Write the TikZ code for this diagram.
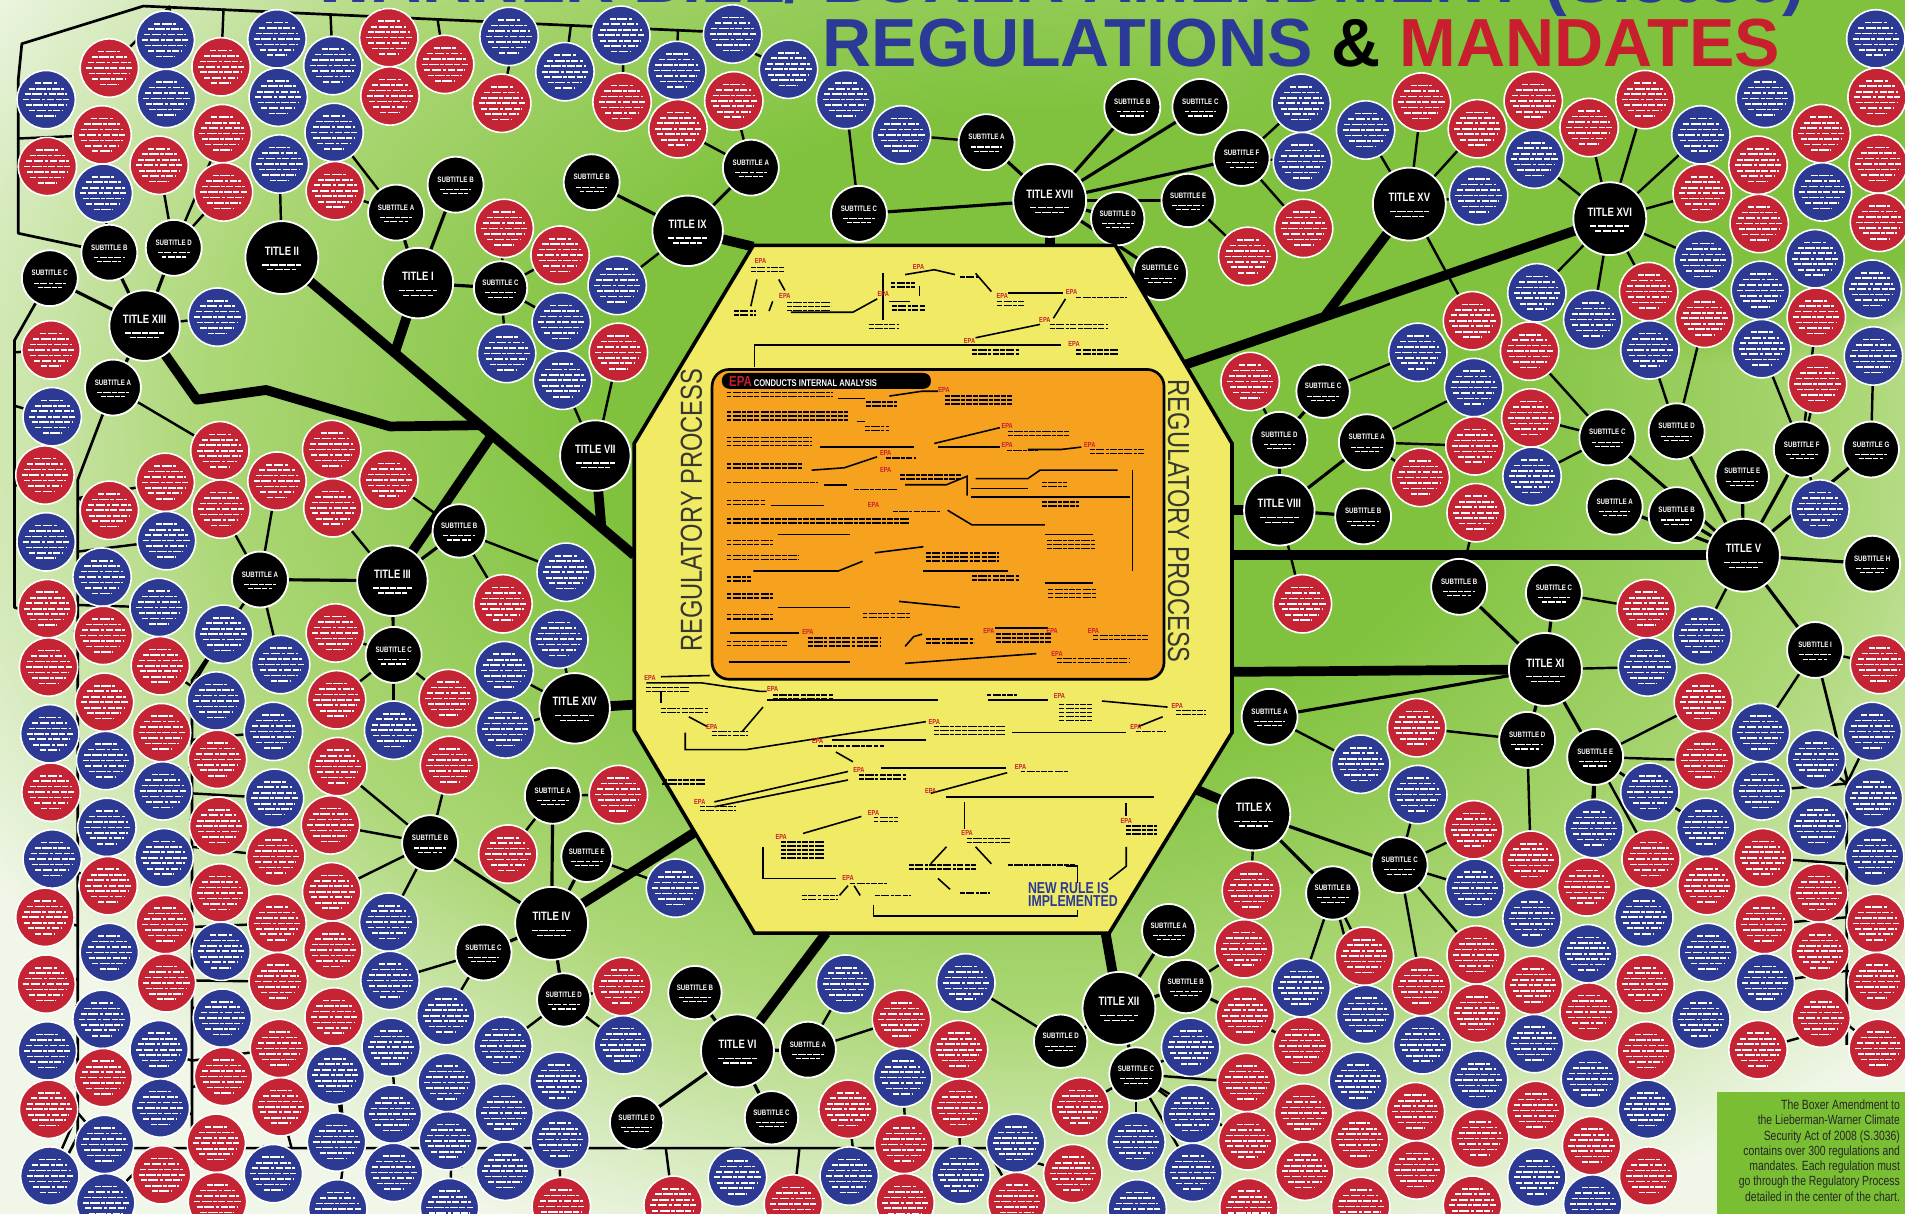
\documentclass[tikz,border=0pt]{standalone}
\usepackage{fontspec}
\setmainfont{Liberation Sans}
\newfontfamily\cond[FakeStretch=0.78]{Liberation Sans}
\usetikzlibrary{fadings}
\definecolor{rred}{RGB}{196,36,52}
\definecolor{rblue}{RGB}{44,58,148}
\definecolor{gcen}{RGB}{128,194,62}
\definecolor{gmid}{RGB}{172,215,118}
\definecolor{gpale}{RGB}{240,246,232}
\definecolor{octy}{RGB}{240,234,100}
\definecolor{orng}{RGB}{247,162,30}
\definecolor{tblue}{RGB}{42,58,150}
\definecolor{tred}{RGB}{200,30,45}
\definecolor{boxg}{RGB}{122,190,52}
\definecolor{rpgray}{RGB}{55,55,50}
\pgfdeclareradialshading{bgshade}{\pgfpoint{0bp}{0bp}}{color(0bp)=(gcen); color(9bp)=(gcen); color(17bp)=(gmid); color(25bp)=(gpale); color(50bp)=(gpale)}
\pgfdeclarelayer{back}
\pgfdeclarelayer{bg}
\pgfsetlayers{back,bg,main}
\newcount\cx \newcount\cy \newcount\dd \newcount\best
\newif\ifcellskip
\def\testBN#1#2#3#4#5#6{%
  \dd=\numexpr(\cx-#2)*(\cx-#2)+(\cy-#3)*(\cy-#3)\relax
  \ifnum\dd<\numexpr(#4+26)*(#4+26)\relax\cellskiptrue\fi
  \ifnum\dd<\best\best=\dd\def\bestname{#1}\fi}
\def\testHB#1#2#3{%
  \dd=\numexpr(\cx-#2)*(\cx-#2)+(\cy-#3)*(\cy-#3)\relax
  \ifnum\dd<\best\best=\dd\def\bestname{#1}\fi}
\def\testSEG#1#2#3#4#5{%
  \dd=\numexpr(\cx-#1)*(#3-#1)+(\cy-#2)*(#4-#2)\relax
  \ifnum\dd>0 \ifnum\dd<\numexpr(#3-#1)*(#3-#1)+(#4-#2)*(#4-#2)\relax
    \dd=\numexpr(\cx-#1)*(#4-#2)-(\cy-#2)*(#3-#1)\relax
    \ifnum\dd<0 \dd=-\dd\fi
    \ifnum\dd<\numexpr29*#5\relax\cellskiptrue\fi
  \fi\fi
  \dd=\numexpr(\cx-#1)*(\cx-#1)+(\cy-#2)*(\cy-#2)\relax
  \ifnum\dd<841 \cellskiptrue\fi}
\def\checkregions{%
  \ifnum\cx>495 \ifnum\cx<1041 \ifnum\cy>176 \ifnum\cy<795
    \ifnum\numexpr-163*(\cx-620)-98*(\cy-202)\relax<4940
    \ifnum\numexpr163*(\cx-918)-96*(\cy-202)\relax<4914
    \ifnum\numexpr165*(\cx-1014)+101*(\cy-603)\relax<5031
    \ifnum\numexpr-167*(\cx-522)+99*(\cy-601)\relax<5047
      \cellskiptrue
    \fi\fi\fi\fi
  \fi\fi\fi\fi
  \ifnum\cx>650 \ifnum\cx<1525 \ifnum\cy<62 \cellskiptrue\fi\fi\fi
  \ifnum\cx>1395 \ifnum\cy>880 \cellskiptrue\fi\fi
  \ifnum\cx<100 \ifnum\cy<40 \cellskiptrue\fi\fi}
\def\drawBN#1#2#3#4#5#6{\node[#5node,minimum size=#4*2] (#1) at (#2,#3) {\raisebox{2pt}[0pt][0pt]{#6}};}
\def\BLACKNODES{%
\BN{t13}{119}{268}{29}{T}{TITLE XIII}%
\BN{s13a}{93}{319}{23}{S}{SUBTITLE A}%
\BN{s13b}{90}{208}{23}{S}{SUBTITLE B}%
\BN{s13c}{41}{229}{23}{S}{SUBTITLE C}%
\BN{s13e}{143}{204}{23}{S}{SUBTITLE D}%
\BN{t2}{232}{212}{30}{T}{TITLE II}%
\BN{t1}{344}{233}{29}{T}{TITLE I}%
\BN{s1a}{326}{175}{23}{S}{SUBTITLE A}%
\BN{s1b}{375}{152}{23}{S}{SUBTITLE B}%
\BN{s1c}{412}{237}{22}{S}{SUBTITLE C}%
\BN{s9b}{487}{150}{23}{S}{SUBTITLE B}%
\BN{t9}{566}{190}{29}{T}{TITLE IX}%
\BN{s9a}{618}{138}{23}{S}{SUBTITLE A}%
\BN{s9c}{707}{176}{23}{S}{SUBTITLE C}%
\BN{s17a}{812}{117}{23}{S}{SUBTITLE A}%
\BN{t17}{864}{165}{30}{T}{TITLE XVII}%
\BN{s17b}{932}{88}{23}{S}{SUBTITLE B}%
\BN{s17c}{988}{88}{23}{S}{SUBTITLE C}%
\BN{s17d}{1022}{130}{23}{S}{SUBTITLE F}%
\BN{s17e}{920}{180}{22}{S}{SUBTITLE D}%
\BN{s17f}{978}{165}{22}{S}{SUBTITLE E}%
\BN{s17g}{955}{225}{22}{S}{SUBTITLE G}%
\BN{t15}{1160}{168}{30}{T}{TITLE XV}%
\BN{t16}{1325}{180}{30}{T}{TITLE XVI}%
\BN{t7}{490}{375}{29}{T}{TITLE VII}%
\BN{s3a}{214}{477}{23}{S}{SUBTITLE A}%
\BN{t3}{323}{478}{29}{T}{TITLE III}%
\BN{s3b}{378}{437}{22}{S}{SUBTITLE B}%
\BN{s3c}{324}{539}{23}{S}{SUBTITLE C}%
\BN{t14}{473}{583}{29}{T}{TITLE XIV}%
\BN{s4a}{455}{655}{23}{S}{SUBTITLE A}%
\BN{s4b}{354}{694}{23}{S}{SUBTITLE B}%
\BN{s4e}{483}{705}{21}{S}{SUBTITLE E}%
\BN{t4}{454}{760}{30}{T}{TITLE IV}%
\BN{s4c}{398}{784}{23}{S}{SUBTITLE C}%
\BN{s4d}{464}{823}{22}{S}{SUBTITLE D}%
\BN{s6b}{572}{817}{22}{S}{SUBTITLE B}%
\BN{t6}{607}{865}{30}{T}{TITLE VI}%
\BN{s6a}{665}{864}{23}{S}{SUBTITLE A}%
\BN{s6c}{635}{920}{22}{S}{SUBTITLE C}%
\BN{s6d}{524}{924}{22}{S}{SUBTITLE D}%
\BN{t12}{921}{830}{30}{T}{TITLE XII}%
\BN{s12a}{962}{766}{22}{S}{SUBTITLE A}%
\BN{s12b}{976}{812}{22}{S}{SUBTITLE B}%
\BN{s12c}{935}{884}{22}{S}{SUBTITLE C}%
\BN{s12d}{873}{857}{22}{S}{SUBTITLE D}%
\BN{t10}{1032}{670}{30}{T}{TITLE X}%
\BN{s10b}{1097}{735}{22}{S}{SUBTITLE B}%
\BN{s10c}{1152}{712}{23}{S}{SUBTITLE C}%
\BN{t11}{1272}{551}{30}{T}{TITLE XI}%
\BN{s11a}{1045}{590}{23}{S}{SUBTITLE A}%
\BN{s11b}{1201}{483}{23}{S}{SUBTITLE B}%
\BN{s11c}{1279}{488}{23}{S}{SUBTITLE C}%
\BN{s11d}{1257}{609}{23}{S}{SUBTITLE D}%
\BN{s11e}{1313}{623}{23}{S}{SUBTITLE E}%
\BN{t8}{1053}{420}{29}{T}{TITLE VIII}%
\BN{s8a}{1053}{362}{23}{S}{SUBTITLE D}%
\BN{s8b}{1089}{322}{22}{S}{SUBTITLE C}%
\BN{s8c}{1125}{364}{23}{S}{SUBTITLE A}%
\BN{s8d}{1122}{425}{23}{S}{SUBTITLE B}%
\BN{t5}{1435}{457}{30}{T}{TITLE V}%
\BN{s5a}{1323}{360}{23}{S}{SUBTITLE C}%
\BN{s5b}{1380}{355}{23}{S}{SUBTITLE D}%
\BN{s5c}{1329}{417}{23}{S}{SUBTITLE A}%
\BN{s5d}{1380}{424}{23}{S}{SUBTITLE B}%
\BN{s5e}{1434}{392}{22}{S}{SUBTITLE E}%
\BN{s5f}{1483}{370}{23}{S}{SUBTITLE F}%
\BN{s5g}{1540}{370}{23}{S}{SUBTITLE G}%
\BN{s5h}{1541}{464}{23}{S}{SUBTITLE H}%
\BN{s5i}{1494}{535}{23}{S}{SUBTITLE I}%
}
\def\THICKSEGS{%
\SEG{1325}{180}{976}{300}{369}%
\SEG{1160}{168}{1090}{261}{116}%
\SEG{232}{212}{522}{457}{380}%
\SEG{119}{268}{162}{329}{75}%
\SEG{162}{329}{219}{321}{58}%
\SEG{219}{321}{321}{351}{106}%
\SEG{321}{351}{395}{350}{74}%
\SEG{344}{233}{325}{290}{60}%
\SEG{323}{478}{405}{358}{145}%
\SEG{490}{375}{495}{434}{59}%
\SEG{473}{583}{522}{580}{49}%
\SEG{454}{760}{572}{685}{140}%
\SEG{607}{865}{680}{768}{121}%
\SEG{921}{830}{910}{768}{63}%
\SEG{1032}{670}{985}{650}{51}%
\SEG{1272}{551}{1014}{553}{258}%
\SEG{1435}{457}{1014}{457}{421}%
\SEG{1053}{420}{1014}{420}{39}%
\SEG{864}{165}{864}{203}{38}%
\SEG{566}{190}{620}{203}{55}%
}
\gdef\HUBS{}
\def\addhub#1#2#3{\coordinate (#1) at (#2,#3);\xdef\HUBS{\unexpanded\expandafter{\HUBS}\noexpand\HB{#1}{#2}{#3}}}
\def\redtag#1#2#3{\node[tagred] (#1) at (#2,#3) {EPA};}
\def\tb#1#2#3#4{\foreach \q in {1,...,#4}{\draw[tline] (#1,#2+3.3*\q-3.3) -- ++(#3,0);}}
\begin{document}
\begin{tikzpicture}[x=1pt,y=-1pt,
  rc/.style={circle,draw=white,line width=1.3,inner sep=0,minimum size=48,
    path picture={\foreach \yy/\ww in {-13.5/16,-9/28,-4.5/34,0/38,4.5/35,9/29,13.5/18}{\draw[white,line width=1.35,dash pattern=on 5pt off 1.2pt on 8pt off 1.2pt on 3pt off 1.2pt on 6pt off 1.2pt] ([xshift=-\ww*0.5pt,yshift=\yy*1pt]path picture bounding box.center) -- ++(\ww,0);}}},
  Tnode/.style={circle,fill=black,draw=white,line width=1.5,inner sep=0,text=white,align=center,font=\cond\bfseries\fontsize{10}{11}\selectfont,
    path picture={\draw[white,line width=1.1,dash pattern=on 5pt off 1pt on 7pt off 1pt] ([xshift=-16pt,yshift=-6pt]path picture bounding box.center) -- ++(32,0) ([xshift=-12pt,yshift=-10pt]path picture bounding box.center) -- ++(24,0);}},
  Snode/.style={circle,fill=black,draw=white,line width=1.5,inner sep=0,text=white,align=center,font=\cond\bfseries\fontsize{6.5}{7}\selectfont,
    path picture={\draw[white,line width=0.9,dash pattern=on 4pt off 1pt on 6pt off 1pt] ([xshift=-13pt,yshift=-4pt]path picture bounding box.center) -- ++(26,0) ([xshift=-10pt,yshift=-7.5pt]path picture bounding box.center) -- ++(20,0);}},
  conn/.style={line width=2,black},
  sublink/.style={line width=2.6,black},
  thickl/.style={line width=8,black},
  spine/.style={line width=2.2,black,line join=round},
  flow/.style={line width=1.3,black},
  tline/.style={line width=1.2,black,dash pattern=on 4pt off 1pt on 7pt off 1pt on 3pt off 1pt on 5pt off 1pt},
  tagred/.style={text=tred,font=\cond\bfseries\fontsize{6}{6}\selectfont,inner sep=0}]
\useasboundingbox (0,0) rectangle (1568,999);
\begin{pgfonlayer}{back}
  \shade[shading=bgshade] (-150,-370) rectangle (1850,1070);
  \fill[gcen,path fading=circle with fuzzy edge 20 percent] (1380,60) ellipse [x radius=380,y radius=240];
\end{pgfonlayer}
% titles
\node[anchor=base west,inner sep=0,font=\bfseries\fontsize{56}{56}\selectfont,text=tblue] (title1) at (257,2) {WARNER BILL/ BOXER AMENDMENT (S.3036)};
\node[anchor=base west,inner sep=0,font=\bfseries\fontsize{56}{56}\selectfont] (title2) at (677,55) {\textcolor{tblue}{REGULATIONS} \& \textcolor{tred}{MANDATES}};
% black nodes
\let\BN\drawBN \BLACKNODES
% octagon anchor coordinates
\coordinate (o16) at (976,300); \coordinate (j15) at (1090,261);
\coordinate (o2) at (522,457); \coordinate (k1) at (162,329); \coordinate (k2) at (219,321);
\coordinate (k3) at (321,351); \coordinate (k4) at (395,350);
\coordinate (j1) at (325,290); \coordinate (j3) at (405,358); \coordinate (j7) at (495,434);
\coordinate (o14) at (522,580); \coordinate (o4) at (572,685); \coordinate (o6) at (680,768);
\coordinate (o12) at (910,768); \coordinate (o10) at (985,650); \coordinate (o11) at (1014,553);
\coordinate (o5) at (1014,457); \coordinate (o8) at (1014,420); \coordinate (o17) at (864,203);
\coordinate (o9) at (620,203);
% hubs along spines
\foreach \k in {0,...,20}{\pgfmathtruncatemacro\hx{140+22*\k}\pgfmathtruncatemacro\hy{5+(\hx-118)*21/464}\addhub{hA\k}{\hx}{\hy}}
\foreach \k in {0,...,5}{\pgfmathtruncatemacro\hy{70+22*\k}\addhub{hB\k}{15}{\hy}}
\foreach \k in {0,...,9}{\pgfmathtruncatemacro\hy{290+22*\k}\addhub{hC\k}{12}{\hy}}
\foreach \k in {0,...,23}{\pgfmathtruncatemacro\hy{410+22*\k}\addhub{hD\k}{64}{\hy}}
\foreach \k in {0,...,17}{\pgfmathtruncatemacro\hy{565+22*\k}\addhub{hE\k}{158}{\hy}}
\foreach \k in {0,...,31}{\pgfmathtruncatemacro\hx{130+22*\k}\addhub{hF\k}{\hx}{945}}
\foreach \k in {0,...,9}{\pgfmathtruncatemacro\hy{645+22*\k}\addhub{hG\k}{1520}{\hy}}
\begin{pgfonlayer}{bg}
  \draw[thickl] (t16.center) -- (o16);
  \draw[thickl] (t15.center) -- (j15);
  \draw[thickl] (t2.center) -- (o2);
  \draw[thickl,line join=round] (t13.center) -- (k1) -- (k2) -- (k3) -- (k4);
  \draw[thickl] (t1.center) -- (j1);
  \draw[thickl] (t3.center) -- (j3);
  \draw[thickl] (t7.center) -- (j7);
  \draw[thickl] (t14.center) -- (o14);
  \draw[thickl] (t4.center) -- (o4);
  \draw[thickl] (t6.center) -- (o6);
  \draw[thickl] (t12.center) -- (o12);
  \draw[thickl] (t10.center) -- (o10);
  \draw[thickl] (t11.center) -- (o11);
  \draw[thickl] (t5.center) -- (o5);
  \draw[thickl] (t8.center) -- (o8);
  \draw[thickl] (t17.center) -- (o17);
  \draw[thickl] (t9.center) -- (o9);
  \draw[spine] (s13b.center) -- (15,192) -- (15,66) -- (18,36) -- (118,5) -- (582,26);
  \draw[spine] (s13c.center) -- (12,280) -- (12,500) -- (40,508);
  \draw[spine] (s13a.center) -- (64,395) -- (64,935) -- (50,962);
  \draw[spine] (s3a.center) -- (158,560) -- (158,945);
  \draw[spine] (64,935) -- (90,945) -- (840,945);
  \draw[spine] (s5i.center) -- (1520,640) -- (1520,860);
  \foreach \a/\b in {t13/s13a,t13/s13b,t13/s13c,t13/s13e,t1/s1a,t1/s1b,t1/s1c,t9/s9b,t9/s9a,t17/s9c,
    t17/s17a,t17/s17b,t17/s17c,t17/s17d,t17/s17e,t17/s17f,t17/s17g,t3/s3a,t3/s3b,t3/s3c,
    t4/s4a,t4/s4b,t4/s4e,t4/s4c,t4/s4d,t6/s6a,t6/s6b,t6/s6c,t6/s6d,t12/s12a,t12/s12b,t12/s12c,t12/s12d,
    t10/s10b,t10/s10c,t11/s11a,t11/s11b,t11/s11c,t11/s11d,t11/s11e,t8/s8a,t8/s8c,t8/s8d,s8a/s8b,
    t5/s5a,t5/s5b,t5/s5c,t5/s5d,t5/s5e,t5/s5f,t5/s5g,t5/s5h,t5/s5i}
    {\draw[sublink] (\a.center) -- (\b.center);}
\end{pgfonlayer}
% grid of regulation circles
\foreach \i in {0,...,32}{%
 \foreach \j in {0,...,18}{%
  \pgfmathtruncatemacro\px{40+47*\i+mod(\i*13+\j*29,7)-3}%
  \pgfmathtruncatemacro\py{30+52*\j+26*mod(\i,2)+mod(\i*31+\j*17,7)-3}%
  \pgfmathtruncatemacro\hh{mod(\i*37+\j*61+\i*\j*7+\i*\i*3,100)}%
  \cx=\px\relax \cy=\py\relax
  \cellskipfalse \best=2000000000 \def\bestname{}%
  \checkregions
  \ifcellskip\else\let\BN\testBN\BLACKNODES\fi
  \ifcellskip\else\let\SEG\testSEG\THICKSEGS\fi
  \ifcellskip\else
    \let\HB\testHB\HUBS
    \ifnum\hh<55 \def\cc{rred}\else\def\cc{rblue}\fi
    \node[rc,fill=\cc] (c-\i-\j) at (\px,\py) {};
    \ifnum\best<12100
      \begin{pgfonlayer}{bg}\draw[conn] (\bestname) -- (c-\i-\j);\end{pgfonlayer}
    \fi
  \fi
 }}
% octagon
\draw[line width=3,fill=octy] (620,202) -- (918,202) -- (1014,365) -- (1014,603) -- (913,768) -- (621,768) -- (522,601) -- (522,365) -- cycle;
\node[draw,line width=2.2,fill=orng,rounded corners=14,minimum width=372,minimum height=255,anchor=north west,inner sep=0] (orangebox) at (585,303) {};
\node[fill=black,rounded corners=6,minimum width=172,minimum height=13,anchor=west,inner sep=0] (pill) at (594,313.5) {};
\node[anchor=west,inner sep=0,font=\cond\bfseries\fontsize{8}{8}\selectfont,text=white] (pilltext) at (600,314) {\textcolor{tred}{\fontsize{12}{12}\selectfont EPA} CONDUCTS INTERNAL ANALYSIS};
\node[rotate=90,inner sep=0,font=\cond\fontsize{25}{25}\selectfont,text=rpgray] (rpl) at (569,420) {REGULATORY PROCESS};
\node[rotate=-90,inner sep=0,font=\cond\fontsize{25}{25}\selectfont,text=rpgray] (rpr) at (970,429) {REGULATORY PROCESS};
\node[anchor=north west,inner sep=0,align=left,font=\cond\bfseries\fontsize{13}{10.5}\selectfont,text=tblue] (newrule) at (846,726) {NEW RULE IS\\IMPLEMENTED};
% flowchart upper
\draw[flow] (623,230) -- (618,252);
\draw[flow] (641,230) -- (646,239);
\draw[flow] (636,248) -- (633,256);
\draw[flow] (651,257) -- (702,257) -- (722,246);
\draw[flow] (727,225) -- (727,263);
\draw[flow] (732,248) -- (749,248);
\draw[flow] (745,226) -- (769,222) -- (786,226);
\draw[flow] (757,235) -- (757,244);
\draw[flow] (803,225) -- (816,240);
\draw[flow] (830,241) -- (875,241);
\draw[flow] (877,246) -- (867,262);
\draw[flow] (856,267) -- (803,278);
\draw[flow] (621,302) -- (621,284) -- (873,284);
\tb{618}{220}{28}{2}\tb{648}{249}{36}{3}\tb{604}{256}{18}{2}\tb{733}{233}{20}{2}
\tb{734}{252}{28}{2}\tb{715}{267}{25}{2}\tb{790}{228}{16}{1}\tb{821}{248}{22}{2}
\tb{886}{245}{42}{1}\tb{864}{267}{48}{2}\tb{800}{288}{40}{2}\tb{886}{288}{34}{2}
% flowchart orange
\draw[flow] (690,328) -- (712,328);
\draw[flow] (732,326) -- (759,322) -- (772,322);
\draw[flow] (705,347) -- (712,347);
\draw[flow] (675,368) -- (752,368);
\draw[flow] (769,365) -- (823,352);
\draw[flow] (772,368) -- (823,368);
\draw[flow] (846,370) -- (873,370) -- (890,368);
\draw[flow] (668,387) -- (695,385) -- (722,376);
\draw[flow] (678,399) -- (697,399);
\draw[flow] (745,399) -- (779,399) -- (796,392) -- (796,408);
\draw[flow] (803,394) -- (846,394) -- (856,387) -- (920,387);
\draw[flow] (799,402) -- (846,402);
\draw[flow] (799,409) -- (930,409);
\draw[flow] (932,387) -- (932,470);
\draw[flow] (635,416) -- (678,416);
\draw[flow] (640,440) -- (700,440);
\draw[flow] (720,455) -- (760,450);
\draw[flow] (780,420) -- (800,432) -- (860,432);
\draw[flow] (860,440) -- (900,440);
\draw[flow] (620,470) -- (690,470) -- (710,462);
\draw[flow] (760,470) -- (830,470);
\draw[flow] (860,480) -- (900,480);
\draw[flow] (640,500) -- (700,500);
\draw[flow] (740,495) -- (790,500);
\draw[flow] (601,521) -- (658,521);
\draw[flow] (745,532) -- (752,524) -- (759,522);
\draw[flow] (819,517) -- (863,517);
\draw[flow] (745,546) -- (853,538);
\draw[flow] (600,545) -- (700,545);
\tb{598}{323}{88}{2}\tb{598}{339}{100}{3}\tb{598}{360}{70}{3}\tb{598}{382}{62}{2}
\tb{598}{397}{75}{1}\tb{598}{412}{32}{2}\tb{598}{427}{150}{2}\tb{598}{445}{38}{2}
\tb{598}{457}{60}{2}\tb{598}{475}{20}{2}\tb{598}{489}{38}{2}\tb{598}{506}{38}{2}
\tb{598}{528}{50}{2}\tb{713}{331}{25}{2}\tb{778}{326}{55}{3}\tb{712}{351}{20}{2}
\tb{830}{355}{50}{2}\tb{829}{371}{25}{1}\tb{897}{370}{45}{2}\tb{729}{377}{25}{1}
\tb{741}{391}{50}{2}\tb{703}{403}{36}{1}\tb{858}{397}{20}{2}\tb{858}{413}{30}{2}
\tb{735}{421}{40}{1}\tb{762}{455}{60}{3}\tb{800}{474}{40}{2}\tb{862}{445}{40}{3}
\tb{863}{485}{40}{3}\tb{710}{505}{40}{2}\tb{665}{525}{60}{3}\tb{762}{526}{40}{2}
\tb{820}{522}{45}{3}\tb{870}{542}{60}{2}\tb{900}{523}{45}{2}
% flowchart lower
\draw[flow] (584,556) -- (544,557);
\draw[flow] (532,562) -- (577,562) -- (625,569) -- (631,569);
\draw[flow] (544,569) -- (544,579);
\draw[flow] (631,576) -- (772,576);
\draw[flow] (813,576) -- (863,576);
\draw[flow] (907,577) -- (961,582);
\draw[flow] (628,582) -- (611,602);
\draw[flow] (567,590) -- (582,598);
\draw[flow] (564,603) -- (564,617) -- (614,617) -- (762,594);
\draw[flow] (833,603) -- (927,603);
\draw[flow] (957,590) -- (937,598);
\draw[flow] (685,609) -- (762,609);
\draw[flow] (688,619) -- (702,627);
\draw[flow] (725,632) -- (828,632);
\draw[flow] (698,635) -- (588,660);
\draw[flow] (698,642) -- (588,664);
\draw[flow] (829,636) -- (766,653);
\draw[flow] (779,656) -- (950,656);
\draw[flow] (794,660) -- (794,682);
\draw[flow] (927,661) -- (927,672);
\draw[flow] (709,672) -- (661,686);
\draw[flow] (779,697) -- (766,711);
\draw[flow] (803,697) -- (816,711);
\draw[flow] (628,697) -- (628,723) -- (688,723);
\draw[flow] (877,713) -- (887,713) -- (887,727);
\draw[flow] (927,697) -- (927,713) -- (913,724);
\draw[flow] (772,723) -- (782,732);
\draw[flow] (719,745) -- (719,754) -- (887,754) -- (887,749);
\draw[flow] (698,729) -- (691,737);
\draw[flow] (703,729) -- (708,737);
\tb{532}{566}{35}{2}\tb{544}{583}{40}{2}\tb{636}{572}{50}{2}\tb{812}{572}{25}{1}
\tb{872}{580}{28}{5}\tb{968}{585}{25}{2}\tb{586}{602}{30}{2}\tb{769}{598}{58}{3}
\tb{935}{602}{25}{1}\tb{673}{614}{55}{1}\tb{707}{638}{40}{2}\tb{840}{635}{40}{1}
\tb{545}{642}{35}{2}\tb{576}{664}{30}{2}\tb{927}{680}{25}{3}\tb{719}{673}{20}{2}
\tb{643}{693}{35}{5}\tb{796}{690}{35}{2}\tb{748}{712}{55}{2}\tb{830}{712}{55}{1}
\tb{700}{727}{30}{1}\tb{660}{737}{30}{2}\tb{720}{737}{30}{1}\tb{790}{735}{25}{1}
% red tags
\redtag{rt1}{626}{215}\redtag{rt2}{646}{244}\redtag{rt3}{727}{242}\redtag{rt4}{756}{220}
\redtag{rt5}{825}{244}\redtag{rt6}{882}{240}\redtag{rt7}{860}{263}\redtag{rt8}{798}{281}
\redtag{rt9}{884}{283}\redtag{rt10}{777}{321}\redtag{rt11}{829}{351}\redtag{rt12}{829}{366}
\redtag{rt13}{897}{366}\redtag{rt14}{729}{373}\redtag{rt15}{729}{387}\redtag{rt16}{719}{416}
\redtag{rt17}{665}{520}\redtag{rt18}{814}{519}\redtag{rt19}{866}{519}\redtag{rt20}{900}{519}
\redtag{rt21}{870}{538}\redtag{rt22}{535}{558}\redtag{rt23}{636}{567}\redtag{rt24}{872}{573}
\redtag{rt25}{969}{581}\redtag{rt26}{586}{598}\redtag{rt27}{769}{594}\redtag{rt28}{935}{598}
\redtag{rt29}{673}{610}\redtag{rt30}{707}{634}\redtag{rt31}{840}{631}\redtag{rt32}{576}{660}
\redtag{rt33}{766}{651}\redtag{rt34}{927}{676}\redtag{rt35}{719}{669}\redtag{rt36}{643}{689}
\redtag{rt37}{796}{686}\redtag{rt38}{698}{723}
% info box
\node[fill=boxg,anchor=north west,minimum width=160,minimum height=104,inner sep=0] (infobox) at (1413,899) {};
\node[anchor=north east,align=right,inner sep=0,font=\cond\fontsize{11}{12.6}\selectfont,text=black!85] (infotext) at (1564,905) {The Boxer Amendment to\\the Lieberman-Warner Climate\\Security Act of 2008 (S.3036)\\contains over 300 regulations and\\mandates. Each regulation must\\go through the Regulatory Process\\detailed in the center of the chart.};
\end{tikzpicture}
\end{document}
